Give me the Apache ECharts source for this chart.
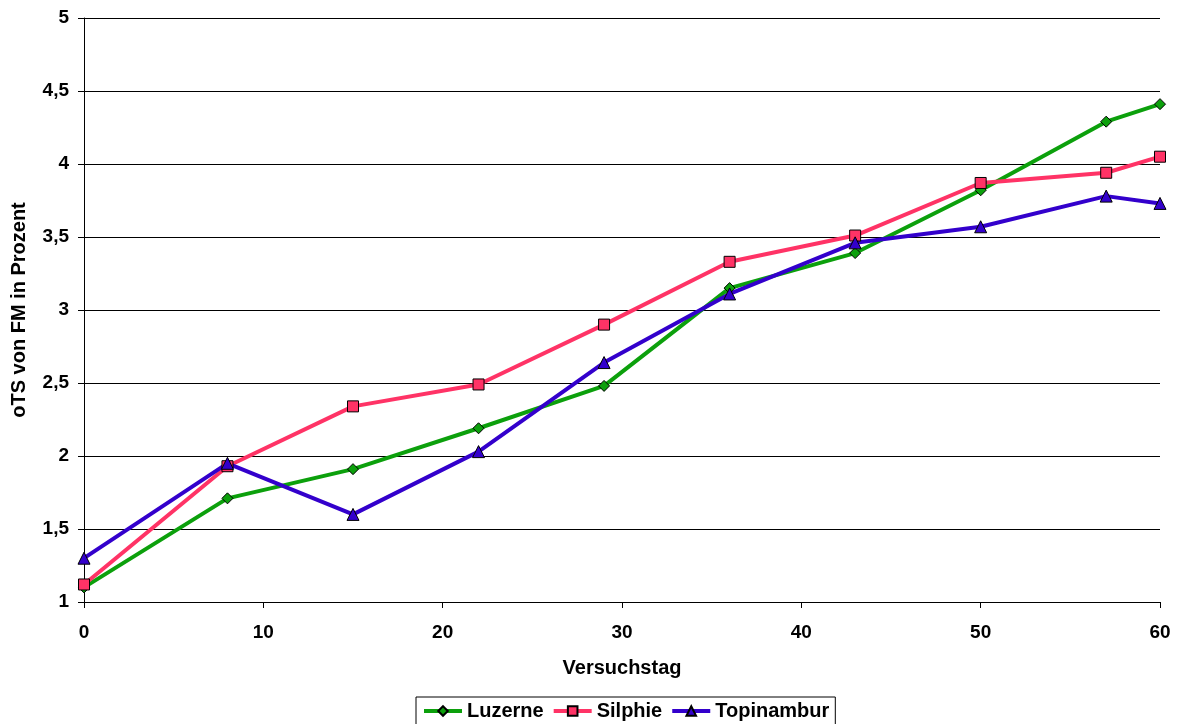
<!DOCTYPE html>
<html>
<head>
<meta charset="utf-8">
<script src="https://cdn.jsdelivr.net/npm/echarts@6/dist/echarts.min.js"></script>
<style>
  html, body { margin: 0; padding: 0; background: #fff; }
  #chart { width: 1179px; height: 724px; }
</style>
</head>
<body>
<div id="chart"></div>
<script>
var days = [0, 8, 15, 22, 29, 36, 43, 50, 57, 60];
var luzerne = [1.10, 1.71, 1.91, 2.19, 2.48, 3.15, 3.39, 3.82, 4.29, 4.41];
var silphie = [1.12, 1.93, 2.34, 2.49, 2.90, 3.33, 3.51, 3.87, 3.94, 4.05];
var topinambur = [1.30, 1.95, 1.60, 2.03, 2.64, 3.11, 3.46, 3.57, 3.78, 3.73];

function pairs(xs, ys) {
  var out = [];
  for (var i = 0; i < xs.length; i++) {
    out.push([xs[i], ys[i]]);
  }
  return out;
}

var font = 'Liberation Sans, Arial, sans-serif';

function makeSeries(name, values, color, symbol, size) {
  return {
    name: name,
    type: 'line',
    data: pairs(days, values),
    symbol: symbol,
    symbolSize: size,
    lineStyle: { color: color, width: 4 },
    itemStyle: { color: color, borderColor: '#000', borderWidth: 1 },
    emphasis: { disabled: true },
    z: 3
  };
}

var myChart = echarts.init(document.getElementById('chart'));
var option = {
  animation: false,
  backgroundColor: '#fff',
  grid: { left: 84, right: 19, top: 18, bottom: 122, containLabel: false, outerBoundsMode: 'none' },
  legend: {
    data: ['Luzerne', 'Silphie', 'Topinambur'],
    left: 416,
    top: 697,
    itemWidth: 38,
    itemHeight: 12,
    itemGap: 8,
    padding: [4, 6, 10, 6],
    borderColor: '#000',
    borderWidth: 1,
    lineStyle: { width: 4 },
    textStyle: { fontFamily: font, fontWeight: 'bold', fontSize: 20, color: '#000' }
  },
  xAxis: {
    type: 'value',
    min: 0,
    max: 60,
    interval: 10,
    name: 'Versuchstag',
    nameLocation: 'middle',
    nameGap: 56,
    nameTextStyle: { fontFamily: font, fontWeight: 'bold', fontSize: 20, color: '#000' },
    axisLine: { lineStyle: { color: '#000', width: 1 } },
    axisTick: { show: true, length: 6, lineStyle: { color: '#000' } },
    axisLabel: { fontFamily: font, fontWeight: 'bold', fontSize: 19, color: '#000', margin: 21 },
    splitLine: { show: false }
  },
  yAxis: {
    type: 'value',
    min: 1,
    max: 5,
    interval: 0.5,
    name: 'oTS von FM in Prozent',
    nameLocation: 'middle',
    nameGap: 55,
    nameTextStyle: { fontFamily: font, fontWeight: 'bold', fontSize: 20, color: '#000' },
    axisLine: { show: true, lineStyle: { color: '#000', width: 1 } },
    axisTick: { show: true, length: 6, lineStyle: { color: '#000' } },
    axisLabel: {
      fontFamily: font, fontWeight: 'bold', fontSize: 19, color: '#000', margin: 15,
      formatter: function (v) { return String(v).replace('.', ','); }
    },
    splitLine: { show: true, lineStyle: { color: '#000', width: 1 } }
  },
  series: [
    makeSeries('Luzerne', luzerne, '#0ca00c', 'diamond', 11),
    makeSeries('Silphie', silphie, '#ff3366', 'rect', 11),
    makeSeries('Topinambur', topinambur, '#3300cc', 'triangle', 12)
  ]
};
myChart.setOption(option);
</script>
</body>
</html>
